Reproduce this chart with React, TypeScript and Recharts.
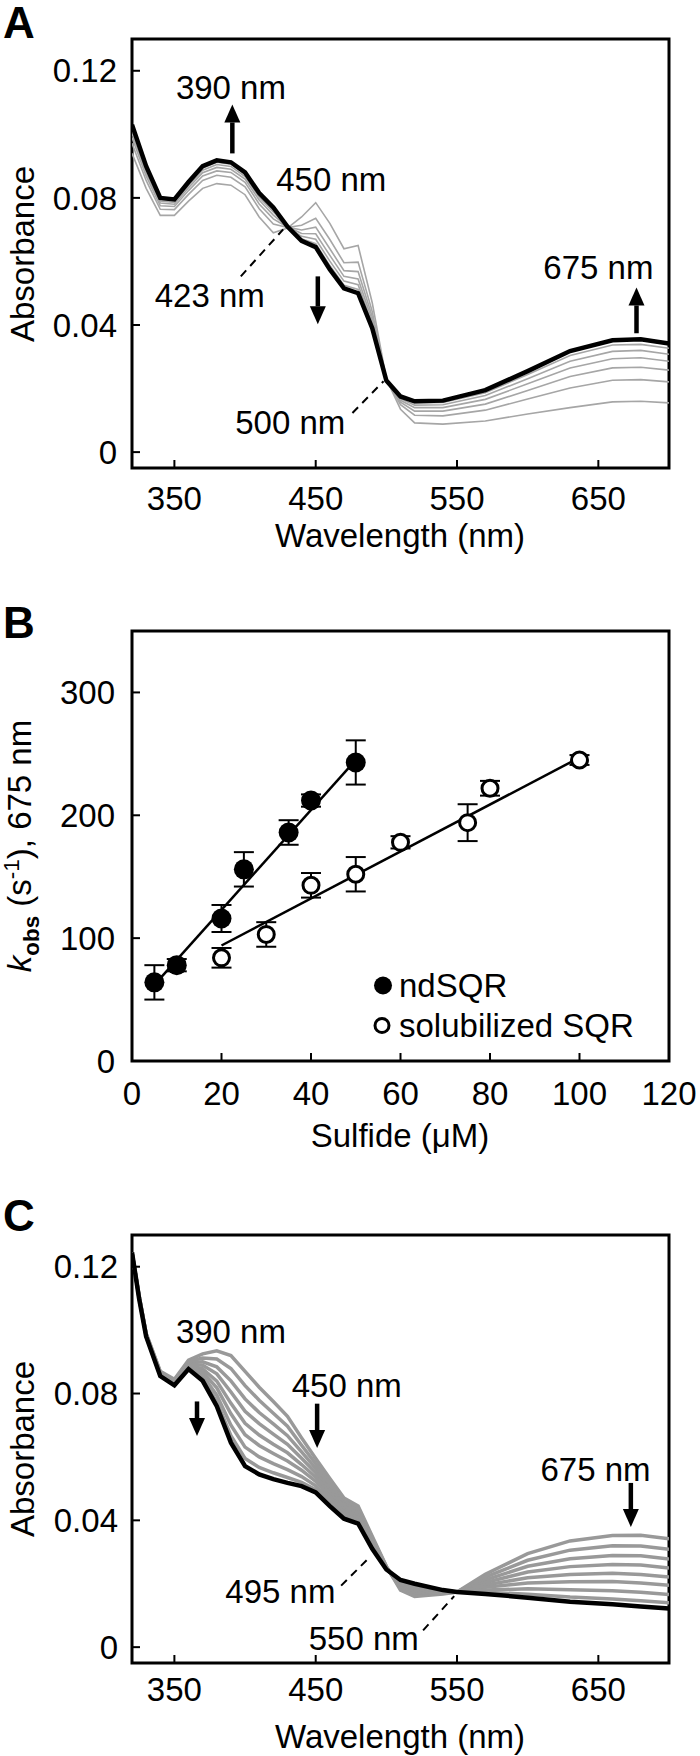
import React from "react";
import {
  LineChart,
  Line,
  XAxis,
  YAxis,
  ReferenceArea,
  ReferenceLine,
  ReferenceDot,
  ScatterChart,
  Scatter,
  ErrorBar,
} from "recharts";

const FONT = '"Liberation Sans", Arial, Helvetica, sans-serif';
const FS = 33;

// ---- panel A: spectra, sulfide added to ndSQR ----
const wavelengthsA = [320, 330, 340, 350, 360, 370, 380, 390, 400, 410, 420, 430, 440, 450, 460, 470, 480, 490, 500, 510, 520, 540, 570, 600, 630, 660, 680, 700];
const absA_final = [0.103, 0.09, 0.08, 0.0795, 0.085, 0.09, 0.0918, 0.0912, 0.088, 0.0815, 0.077, 0.071, 0.0665, 0.0645, 0.0575, 0.0515, 0.05, 0.039, 0.0225, 0.0175, 0.016, 0.0162, 0.0195, 0.0255, 0.0318, 0.0352, 0.0355, 0.0342];
const absA_1 = [0.094, 0.083, 0.0745, 0.0745, 0.079, 0.083, 0.0845, 0.084, 0.081, 0.074, 0.069, 0.0705, 0.074, 0.0785, 0.072, 0.064, 0.065, 0.047, 0.023, 0.0135, 0.0092, 0.0088, 0.0098, 0.012, 0.014, 0.0158, 0.016, 0.0155];
const absA_2 = [0.0972, 0.0855, 0.0764, 0.0763, 0.0811, 0.0855, 0.0871, 0.0865, 0.0835, 0.0766, 0.0718, 0.0707, 0.0714, 0.0736, 0.0669, 0.0596, 0.0598, 0.0442, 0.0228, 0.0149, 0.0116, 0.0114, 0.0132, 0.0167, 0.0202, 0.0226, 0.0228, 0.0221];
const absA_3 = [0.099, 0.0869, 0.0775, 0.0773, 0.0823, 0.0869, 0.0885, 0.088, 0.0849, 0.0781, 0.0734, 0.0708, 0.0699, 0.0708, 0.064, 0.0571, 0.0568, 0.0426, 0.0227, 0.0157, 0.0129, 0.0129, 0.0151, 0.0194, 0.0238, 0.0265, 0.0267, 0.0258];
const absA_4 = [0.1003, 0.0879, 0.0784, 0.078, 0.0832, 0.0879, 0.0896, 0.089, 0.0859, 0.0793, 0.0746, 0.0709, 0.0688, 0.0687, 0.0619, 0.0553, 0.0545, 0.0414, 0.0227, 0.0163, 0.014, 0.014, 0.0166, 0.0215, 0.0265, 0.0294, 0.0297, 0.0286];
const absA_5 = [0.1014, 0.0887, 0.079, 0.0786, 0.0839, 0.0887, 0.0905, 0.0899, 0.0867, 0.0802, 0.0756, 0.0709, 0.0679, 0.067, 0.0601, 0.0538, 0.0527, 0.0404, 0.0226, 0.0168, 0.0148, 0.0149, 0.0178, 0.0231, 0.0286, 0.0317, 0.032, 0.0308];
const absA_6 = [0.1023, 0.0894, 0.0796, 0.0791, 0.0845, 0.0894, 0.0912, 0.0906, 0.0874, 0.0809, 0.0764, 0.071, 0.0671, 0.0656, 0.0587, 0.0525, 0.0512, 0.0396, 0.0225, 0.0172, 0.0155, 0.0156, 0.0187, 0.0244, 0.0304, 0.0337, 0.0339, 0.0327];

// ---- panel B: kobs vs sulfide ----
const ndX = [5, 10, 20, 25, 35, 40, 50];
const ndY = [64, 78, 116, 156, 186, 212, 243];
const ndErr = [14, 5, 11, 14, 10, 5, 18];
const solX = [20, 30, 40, 50, 60, 75, 80, 100];
const solY = [84, 103, 143, 152, 178, 194, 222, 245];
const solErr = [8, 10, 10, 14, 5, 15, 6, 4];
const ndFitX = [5, 50];
const ndFitY = [62, 245];
const solFitX = [20, 100];
const solFitY = [94, 247];

// ---- panel C: spectra, reoxidation ----
const wavelengthsC = [320, 325, 330, 340, 350, 360, 370, 380, 390, 400, 410, 420, 430, 440, 450, 460, 470, 480, 490, 500, 510, 520, 540, 550, 570, 600, 630, 660, 680, 700];
const absC_final = [0.1245, 0.11, 0.098, 0.0855, 0.0826, 0.0877, 0.084, 0.076, 0.0645, 0.0571, 0.0545, 0.053, 0.0518, 0.0508, 0.0488, 0.0445, 0.0405, 0.039, 0.031, 0.0245, 0.0212, 0.02, 0.018, 0.0174, 0.0168, 0.0156, 0.0143, 0.0135, 0.0128, 0.0122];
const absC_1 = [0.1245, 0.111, 0.099, 0.087, 0.0845, 0.0905, 0.0925, 0.0935, 0.092, 0.087, 0.082, 0.0775, 0.0728, 0.066, 0.0595, 0.0532, 0.047, 0.0445, 0.035, 0.0255, 0.018, 0.016, 0.0168, 0.0174, 0.023, 0.0295, 0.0335, 0.0352, 0.0353, 0.0342];
const absC_2 = [0.1245, 0.1109, 0.0989, 0.0868, 0.0842, 0.0901, 0.0912, 0.0909, 0.0879, 0.0825, 0.0779, 0.0738, 0.0697, 0.0637, 0.0579, 0.0519, 0.046, 0.0437, 0.0344, 0.0254, 0.0185, 0.0166, 0.017, 0.0174, 0.0221, 0.0274, 0.0306, 0.032, 0.0319, 0.0309];
const absC_3 = [0.1245, 0.1107, 0.0987, 0.0866, 0.084, 0.0897, 0.09, 0.0884, 0.084, 0.0783, 0.074, 0.0704, 0.0667, 0.0616, 0.0564, 0.0507, 0.0451, 0.0429, 0.0338, 0.0252, 0.0189, 0.0172, 0.0172, 0.0174, 0.0212, 0.0255, 0.0279, 0.0289, 0.0288, 0.0278];
const absC_4 = [0.1245, 0.1106, 0.0986, 0.0864, 0.0837, 0.0893, 0.0889, 0.0862, 0.0805, 0.0744, 0.0705, 0.0672, 0.064, 0.0596, 0.055, 0.0496, 0.0443, 0.0422, 0.0333, 0.0251, 0.0193, 0.0177, 0.0173, 0.0174, 0.0204, 0.0237, 0.0254, 0.0261, 0.0259, 0.025];
const absC_5 = [0.1245, 0.1105, 0.0985, 0.0862, 0.0835, 0.089, 0.0878, 0.0839, 0.0769, 0.0706, 0.0669, 0.064, 0.0613, 0.0576, 0.0536, 0.0484, 0.0434, 0.0415, 0.0328, 0.025, 0.0198, 0.0182, 0.0175, 0.0174, 0.0196, 0.0219, 0.0229, 0.0233, 0.0229, 0.0221];
const absC_6 = [0.1245, 0.1103, 0.0983, 0.086, 0.0832, 0.0886, 0.0868, 0.0818, 0.0736, 0.067, 0.0636, 0.0611, 0.0587, 0.0558, 0.0523, 0.0474, 0.0427, 0.0408, 0.0323, 0.0248, 0.0201, 0.0187, 0.0176, 0.0174, 0.0189, 0.0202, 0.0206, 0.0207, 0.0202, 0.0195];
const absC_7 = [0.1245, 0.1102, 0.0982, 0.0858, 0.083, 0.0883, 0.0857, 0.0795, 0.07, 0.0631, 0.06, 0.0579, 0.056, 0.0538, 0.0509, 0.0462, 0.0418, 0.0401, 0.0318, 0.0247, 0.0206, 0.0192, 0.0178, 0.0174, 0.018, 0.0184, 0.0181, 0.0178, 0.0173, 0.0166];
const absC_8 = [0.1245, 0.1101, 0.0981, 0.0856, 0.0828, 0.0879, 0.0847, 0.0774, 0.0667, 0.0595, 0.0567, 0.055, 0.0535, 0.052, 0.0497, 0.0452, 0.041, 0.0394, 0.0313, 0.0246, 0.0209, 0.0197, 0.0179, 0.0174, 0.0173, 0.0167, 0.0158, 0.0152, 0.0146, 0.014];

const wlTicks = [350, 450, 550, 650];
const absTicks = [0, 0.04, 0.08, 0.12];
const sulfideTicks = [0, 20, 40, 60, 80, 100, 120];
const kobsTicks = [0, 100, 200, 300];

const toRows = (wl: number[], grays: number[][], final: number[]) =>
  wl.map((w, i) => {
    const row: Record<string, number> = { w, k: final[i] };
    grays.forEach((s, g) => (row[`g${g}`] = s[i]));
    return row;
  });

const rowsA = toRows(wavelengthsA, [absA_1, absA_2, absA_3, absA_4, absA_5, absA_6], absA_final);
const rowsC = toRows(
  wavelengthsC,
  [absC_1, absC_2, absC_3, absC_4, absC_5, absC_6, absC_7, absC_8],
  absC_final
);

const pts = (xs: number[], ys: number[], es?: number[]) =>
  xs.map((x, i) => ({ x, y: ys[i], err: es ? es[i] : 0 }));

const tickStyle = { fill: "#000", fontSize: FS, fontFamily: FONT };

function ArrowShape(p: any) {
  const { x1, y1, x2, y2 } = p;
  const dx = x2 - x1;
  const dy = y2 - y1;
  const len = Math.hypot(dx, dy) || 1;
  const ux = dx / len;
  const uy = dy / len;
  const hl = 18;
  const hw = 8;
  const bx = x2 - ux * hl;
  const by = y2 - uy * hl;
  return (
    <g>
      <line x1={x1} y1={y1} x2={bx} y2={by} stroke="#000" strokeWidth={4.5} />
      <polygon
        points={`${x2},${y2} ${bx - uy * hw},${by + ux * hw} ${bx + uy * hw},${by - ux * hw}`}
        fill="#000"
      />
    </g>
  );
}

type Note = { x: number; y: number; text: string };
type Seg = { x1: number; y1: number; x2: number; y2: number };

function SpectrumPanel(props: {
  rows: Record<string, number>[];
  grayCount: number;
  grayColor: string;
  grayWidth: number;
  top: number;
  height: number;
  marginTop: number;
  marginBottom: number;
  xTickMargin: number;
  yTickMargin: number;
  notes: Note[];
  arrows: Seg[];
  dashes: Seg[];
}) {
  const grays = Array.from({ length: props.grayCount }, (_, i) => i);
  return (
    <div style={{ position: "absolute", left: 0, top: props.top }}>
      <LineChart
        width={700}
        height={props.height}
        data={props.rows}
        margin={{ top: props.marginTop, right: 31, bottom: props.marginBottom, left: 0 }}
      >
        <XAxis
          dataKey="w"
          type="number"
          domain={[320, 700]}
          ticks={wlTicks}
          allowDataOverflow
          interval={0}
          axisLine={false}
          tickLine={{ stroke: "#000", strokeWidth: 2 }}
          tickSize={-8}
          tickMargin={props.xTickMargin}
          tick={tickStyle}
          height={60}
        />
        <YAxis
          type="number"
          domain={[-0.005, 0.13]}
          ticks={absTicks}
          allowDataOverflow
          interval={0}
          axisLine={false}
          tickLine={{ stroke: "#000", strokeWidth: 2 }}
          tickSize={-8}
          tickMargin={props.yTickMargin}
          tick={tickStyle}
          width={132}
        />
        {grays.map((g) => (
          <Line
            key={g}
            dataKey={`g${g}`}
            type="linear"
            stroke={props.grayColor}
            strokeWidth={props.grayWidth}
            dot={false}
            isAnimationActive={false}
          />
        ))}
        <Line dataKey="k" type="linear" stroke="#000" strokeWidth={4.5} dot={false} isAnimationActive={false} />
        <ReferenceArea x1={320} x2={700} y1={-0.005} y2={0.13} fill="none" stroke="#000" strokeWidth={3} ifOverflow="visible" />
        {props.dashes.map((d, i) => (
          <ReferenceLine
            key={`d${i}`}
            segment={[{ x: d.x1, y: d.y1 }, { x: d.x2, y: d.y2 }]}
            stroke="#000"
            strokeWidth={2}
            strokeDasharray="8 6"
            ifOverflow="visible"
          />
        ))}
        {props.arrows.map((a, i) => (
          <ReferenceLine
            key={`a${i}`}
            segment={[{ x: a.x1, y: a.y1 }, { x: a.x2, y: a.y2 }]}
            shape={ArrowShape}
            ifOverflow="visible"
          />
        ))}
        {props.notes.map((n, i) => (
          <ReferenceDot
            key={`n${i}`}
            x={n.x}
            y={n.y}
            r={0}
            fill="none"
            stroke="none"
            ifOverflow="visible"
            label={{ value: n.text, position: "center", fill: "#000", fontSize: FS, fontFamily: FONT }}
          />
        ))}
      </LineChart>
    </div>
  );
}

const Dot = (fill: string, r: number) => (p: any) =>
  <circle cx={p.cx} cy={p.cy} r={r} fill={fill} stroke="#000" strokeWidth={fill === "#000" ? 0 : 3} />;

const abs = (extra: React.CSSProperties): React.CSSProperties => ({
  position: "absolute",
  whiteSpace: "nowrap",
  lineHeight: 1,
  ...extra,
});

export default function App() {
  const yLabel = (top: number) =>
    abs({ left: 22, top, transform: "translate(-50%, -50%) rotate(-90deg)" });
  const xLabel = (top: number) => abs({ left: 400, top, transform: "translate(-50%, -50%)" });
  const letter = (top: number) => abs({ left: 3, top, fontSize: 44, fontWeight: "bold" });

  return (
    <div
      style={{
        position: "absolute",
        left: 0,
        top: 0,
        width: 700,
        height: 1756,
        background: "#fff",
        fontFamily: FONT,
        fontSize: FS,
        color: "#000",
      }}
    >
      <SpectrumPanel
        rows={rowsA}
        grayCount={6}
        grayColor="#a6a6a6"
        grayWidth={1.6}
        top={0}
        height={560}
        marginTop={39}
        marginBottom={32}
        xTickMargin={27}
        yTickMargin={23}
        notes={[
          { x: 390, y: 0.1147, text: "390 nm" },
          { x: 461, y: 0.0858, text: "450 nm" },
          { x: 375, y: 0.0493, text: "423 nm" },
          { x: 650, y: 0.0581, text: "675 nm" },
          { x: 432, y: 0.0094, text: "500 nm" },
        ]}
        arrows={[
          { x1: 391, y1: 0.094, x2: 391, y2: 0.1094 },
          { x1: 451.5, y1: 0.0553, x2: 451.5, y2: 0.0402 },
          { x1: 677, y1: 0.0374, x2: 677, y2: 0.0518 },
        ]}
        dashes={[
          { x1: 397, y1: 0.0553, x2: 427, y2: 0.0701 },
          { x1: 476, y1: 0.0123, x2: 498, y2: 0.0223 },
        ]}
      />
      <div style={letter(1)}>A</div>
      <div style={yLabel(254)}>Absorbance</div>
      <div style={xLabel(535)}>Wavelength (nm)</div>

      <div style={{ position: "absolute", left: 0, top: 560 }}>
        <ScatterChart width={700} height={590} margin={{ top: 71, right: 31, bottom: 29, left: 0 }}>
          <XAxis
            dataKey="x"
            type="number"
            domain={[0, 120]}
            ticks={sulfideTicks}
            allowDataOverflow
            interval={0}
            axisLine={false}
            tickLine={{ stroke: "#000", strokeWidth: 2 }}
            tickSize={-8}
            tickMargin={29}
            tick={tickStyle}
            height={60}
          />
          <YAxis
            dataKey="y"
            type="number"
            domain={[0, 350]}
            ticks={kobsTicks}
            allowDataOverflow
            interval={0}
            axisLine={false}
            tickLine={{ stroke: "#000", strokeWidth: 2 }}
            tickSize={-8}
            tickMargin={25}
            tick={tickStyle}
            width={132}
          />
          <ReferenceArea x1={0} x2={120} y1={0} y2={350} fill="none" stroke="#000" strokeWidth={3} ifOverflow="visible" />
          <Scatter
            data={pts(ndFitX, ndFitY)}
            line={{ stroke: "#000", strokeWidth: 2.5 }}
            shape={() => <g />}
            isAnimationActive={false}
          />
          <Scatter
            data={pts(solFitX, solFitY)}
            line={{ stroke: "#000", strokeWidth: 2.5 }}
            shape={() => <g />}
            isAnimationActive={false}
          />
          <Scatter data={pts(ndX, ndY, ndErr)} shape={Dot("#000", 10)} isAnimationActive={false}>
            <ErrorBar dataKey="err" direction="y" width={10} stroke="#000" strokeWidth={2} />
          </Scatter>
          <Scatter data={pts(solX, solY, solErr)} shape={Dot("#fff", 8)} isAnimationActive={false}>
            <ErrorBar dataKey="err" direction="y" width={10} stroke="#000" strokeWidth={2} />
          </Scatter>
        </ScatterChart>
      </div>
      <div style={letter(601)}>B</div>
      <div style={yLabel(846)}>
        <i>k</i>
        <sub style={{ fontSize: "0.68em", fontWeight: "bold" }}>obs</sub> (s
        <sup style={{ fontSize: "0.68em" }}>-1</sup>), 675 nm
      </div>
      <div style={xLabel(1135)}>Sulfide (μM)</div>
      <div style={abs({ left: 373, top: 985, transform: "translateY(-50%)", display: "flex", alignItems: "center" })}>
        <svg width={20} height={20}>
          <circle cx={10} cy={10} r={9} fill="#000" />
        </svg>
        <span style={{ marginLeft: 6 }}>ndSQR</span>
      </div>
      <div style={abs({ left: 373, top: 1025, transform: "translateY(-50%)", display: "flex", alignItems: "center" })}>
        <svg width={20} height={20}>
          <circle cx={9} cy={10} r={7} fill="#fff" stroke="#000" strokeWidth={3} />
        </svg>
        <span style={{ marginLeft: 6 }}>solubilized SQR</span>
      </div>

      <SpectrumPanel
        rows={rowsC}
        grayCount={8}
        grayColor="#999999"
        grayWidth={3.5}
        top={1150}
        height={606}
        marginTop={85}
        marginBottom={33}
        xTickMargin={23}
        yTickMargin={22}
        notes={[
          { x: 390, y: 0.0996, text: "390 nm" },
          { x: 472, y: 0.0826, text: "450 nm" },
          { x: 648, y: 0.0562, text: "675 nm" },
          { x: 425, y: 0.0176, text: "495 nm" },
          { x: 484, y: 0.0028, text: "550 nm" },
        ]}
        arrows={[
          { x1: 366, y1: 0.0775, x2: 366, y2: 0.0666 },
          { x1: 451, y1: 0.0768, x2: 451, y2: 0.0628 },
          { x1: 673, y1: 0.0518, x2: 673, y2: 0.0379 },
        ]}
        dashes={[
          { x1: 468, y1: 0.0194, x2: 488, y2: 0.0283 },
          { x1: 526, y1: 0.0053, x2: 548, y2: 0.0161 },
        ]}
      />
      <div style={letter(1194)}>C</div>
      <div style={yLabel(1449)}>Absorbance</div>
      <div style={xLabel(1736)}>Wavelength (nm)</div>
    </div>
  );
}
